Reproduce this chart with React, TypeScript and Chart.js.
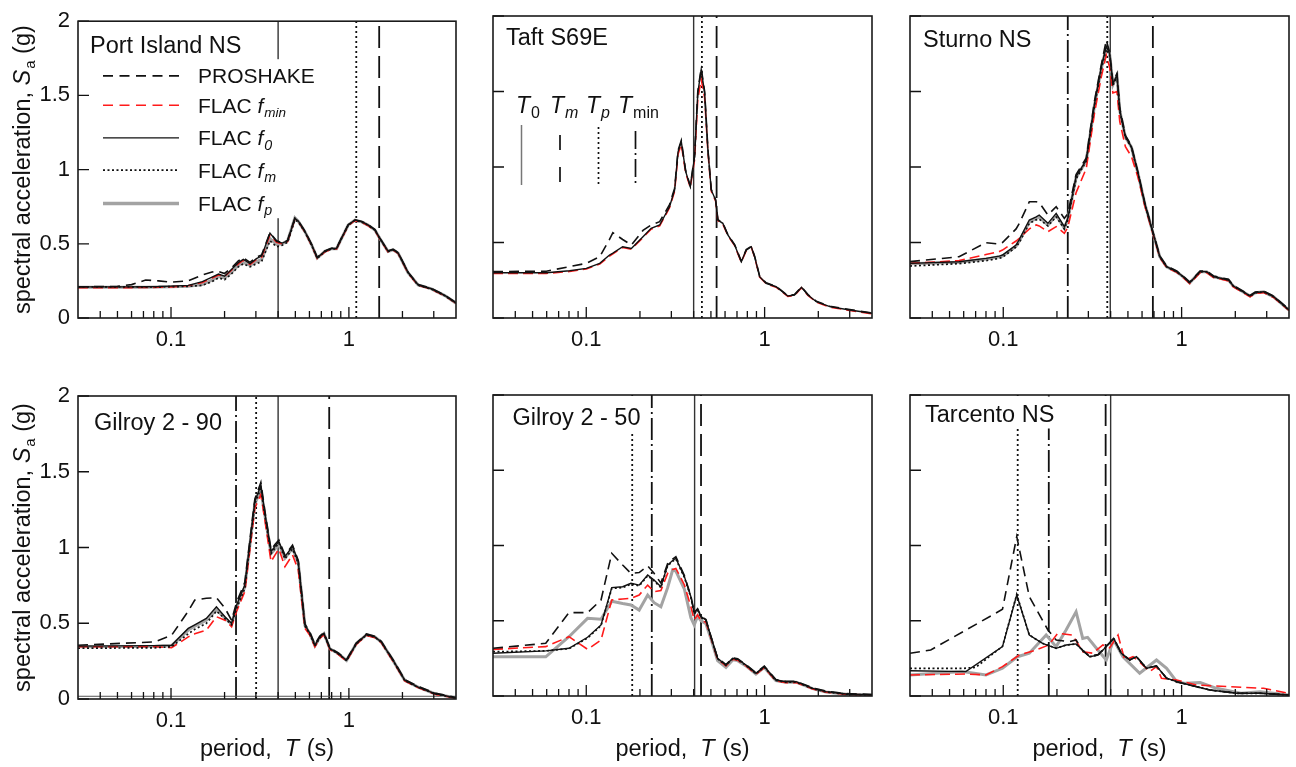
import React, { useEffect, useRef } from "react";
import { Chart, registerables } from "chart.js";
Chart.register(...registerables);

const FAMILY = '"Liberation Sans", Arial, Helvetica, sans-serif';
const W = 1296;
const H = 767;

// ---------- axes ----------
const xMin = 0.03;
const xMax = 4;
const yMin = 0;
const yMax = 2;
const xLabelValues = [0.1, 1];
const xLabelTexts = ["0.1", "1"];
const xMinorTicks = [0.04, 0.05, 0.06, 0.07, 0.08, 0.09, 0.2, 0.3, 0.4, 0.5, 0.6, 0.7, 0.8, 0.9, 2, 3];
const yTickValues = [0, 0.5, 1, 1.5, 2];
const yTickTexts = ["0", "0.5", "1", "1.5", "2"];

const panelTitles = ["Port Island NS", "Taft S69E", "Sturno NS", "Gilroy 2 - 90", "Gilroy 2 - 50", "Tarcento NS"];

// characteristic periods (vertical lines) per panel
const t0Lines = [0.4, 0.4, 0.398, 0.4, 0.405, 0.4];
const tmLines = [1.48, 0.538, 0.69, 0.775, 0.44, 0.375];
const tpLines = [1.1, 0.445, 0.383, 0.301, 0.181, 0.1205];
const tminLines = [null, null, 0.23, 0.232, 0.233, 0.18];

// ---------- Panel 1: Port Island NS ----------
const p1T = [0.03, 0.05, 0.06, 0.072, 0.085, 0.1, 0.125, 0.15, 0.17, 0.185, 0.2, 0.22, 0.239, 0.255, 0.278, 0.302, 0.323, 0.36, 0.392, 0.422, 0.452, 0.497, 0.519, 0.566, 0.617, 0.664, 0.733, 0.798, 0.852, 0.909, 0.991, 1.08, 1.18, 1.28, 1.4, 1.49, 1.66, 1.77, 1.89, 2.15, 2.45, 2.91, 3.46, 4.0];
const p1Proshake = [0.21, 0.213, 0.225, 0.256, 0.25, 0.242, 0.25, 0.29, 0.31, 0.314, 0.3, 0.34, 0.385, 0.405, 0.375, 0.41, 0.425, 0.575, 0.52, 0.508, 0.522, 0.673, 0.656, 0.585, 0.497, 0.408, 0.452, 0.47, 0.47, 0.54, 0.629, 0.662, 0.651, 0.629, 0.596, 0.54, 0.452, 0.463, 0.441, 0.309, 0.225, 0.199, 0.154, 0.103];
const p1Fmin = [0.205, 0.205, 0.205, 0.206, 0.207, 0.21, 0.217, 0.24, 0.27, 0.29, 0.28, 0.325, 0.365, 0.39, 0.36, 0.395, 0.41, 0.56, 0.51, 0.5, 0.515, 0.665, 0.65, 0.58, 0.49, 0.402, 0.446, 0.464, 0.465, 0.534, 0.623, 0.656, 0.645, 0.623, 0.59, 0.534, 0.446, 0.457, 0.435, 0.303, 0.22, 0.194, 0.149, 0.099];
const p1F0 = [0.21, 0.21, 0.21, 0.211, 0.212, 0.215, 0.22, 0.245, 0.275, 0.296, 0.282, 0.33, 0.373, 0.395, 0.366, 0.4, 0.417, 0.572, 0.517, 0.505, 0.52, 0.671, 0.654, 0.583, 0.495, 0.406, 0.45, 0.468, 0.468, 0.538, 0.627, 0.66, 0.649, 0.627, 0.594, 0.538, 0.45, 0.461, 0.439, 0.307, 0.223, 0.197, 0.152, 0.101];
const p1Fm = [0.21, 0.21, 0.21, 0.21, 0.21, 0.211, 0.213, 0.22, 0.245, 0.27, 0.258, 0.3, 0.345, 0.365, 0.345, 0.365, 0.38, 0.52, 0.48, 0.49, 0.51, 0.66, 0.648, 0.58, 0.49, 0.402, 0.447, 0.465, 0.466, 0.535, 0.625, 0.658, 0.647, 0.625, 0.592, 0.536, 0.448, 0.459, 0.437, 0.305, 0.221, 0.195, 0.15, 0.1];
const p1Fp = [0.208, 0.208, 0.208, 0.208, 0.209, 0.21, 0.214, 0.225, 0.255, 0.28, 0.27, 0.31, 0.355, 0.375, 0.355, 0.38, 0.395, 0.535, 0.495, 0.5, 0.52, 0.675, 0.652, 0.582, 0.493, 0.404, 0.449, 0.467, 0.467, 0.537, 0.626, 0.659, 0.648, 0.626, 0.593, 0.537, 0.449, 0.46, 0.438, 0.306, 0.222, 0.196, 0.151, 0.1];

// ---------- Panel 2: Taft S69E ----------
const p2T = [0.03, 0.0597, 0.0806, 0.1, 0.119, 0.135, 0.141, 0.16, 0.179, 0.208, 0.231, 0.258, 0.293, 0.313, 0.327, 0.341, 0.361, 0.383, 0.405, 0.422, 0.441, 0.461, 0.481, 0.502, 0.531, 0.547, 0.583, 0.622, 0.679, 0.74, 0.789, 0.842, 0.879, 0.938, 1.02, 1.16, 1.35, 1.47, 1.61, 1.75, 1.95, 2.32, 3.0, 4.0];
const p2Proshake = [0.307, 0.31, 0.34, 0.362, 0.406, 0.52, 0.565, 0.52, 0.483, 0.58, 0.616, 0.638, 0.75, 0.86, 1.11, 1.175, 0.975, 0.875, 1.075, 1.5, 1.655, 1.5, 1.118, 0.852, 0.785, 0.652, 0.63, 0.553, 0.486, 0.376, 0.453, 0.475, 0.409, 0.277, 0.233, 0.21, 0.149, 0.155, 0.206, 0.155, 0.111, 0.078, 0.056, 0.034];
const p2Fmin = [0.295, 0.295, 0.308, 0.324, 0.357, 0.41, 0.425, 0.467, 0.456, 0.533, 0.588, 0.61, 0.73, 0.84, 1.085, 1.15, 0.96, 0.865, 1.05, 1.45, 1.58, 1.46, 1.1, 0.84, 0.775, 0.645, 0.622, 0.546, 0.479, 0.37, 0.446, 0.468, 0.403, 0.271, 0.227, 0.204, 0.143, 0.149, 0.2, 0.149, 0.105, 0.072, 0.05, 0.028];
const p2F0 = [0.3, 0.3, 0.313, 0.329, 0.362, 0.417, 0.43, 0.472, 0.461, 0.538, 0.594, 0.616, 0.737, 0.848, 1.1, 1.168, 0.969, 0.87, 1.068, 1.49, 1.645, 1.49, 1.113, 0.848, 0.781, 0.649, 0.627, 0.55, 0.483, 0.373, 0.45, 0.472, 0.406, 0.274, 0.23, 0.207, 0.146, 0.152, 0.203, 0.152, 0.108, 0.075, 0.053, 0.031];

// ---------- Panel 3: Sturno NS ----------
const p3T = [0.03, 0.0565, 0.08, 0.095, 0.099, 0.118, 0.123, 0.14, 0.153, 0.159, 0.178, 0.198, 0.22, 0.23, 0.256, 0.292, 0.325, 0.355, 0.378, 0.395, 0.412, 0.434, 0.45, 0.484, 0.523, 0.57, 0.621, 0.692, 0.755, 0.824, 0.938, 1.02, 1.11, 1.27, 1.38, 1.51, 1.83, 1.95, 2.42, 2.59, 2.88, 3.28, 4.0];
const p3Proshake = [0.373, 0.406, 0.499, 0.49, 0.5, 0.59, 0.627, 0.77, 0.77, 0.765, 0.682, 0.737, 0.66, 0.69, 0.95, 1.06, 1.44, 1.68, 1.84, 1.76, 1.56, 1.62, 1.39, 1.21, 1.14, 0.963, 0.765, 0.566, 0.41, 0.344, 0.311, 0.278, 0.238, 0.311, 0.311, 0.278, 0.256, 0.216, 0.15, 0.172, 0.178, 0.145, 0.057];
const p3Fmin = [0.362, 0.38, 0.42, 0.44, 0.45, 0.51, 0.528, 0.59, 0.616, 0.61, 0.572, 0.605, 0.561, 0.6, 0.83, 0.99, 1.36, 1.6, 1.74, 1.66, 1.49, 1.5, 1.3, 1.134, 1.07, 0.93, 0.745, 0.555, 0.4, 0.335, 0.302, 0.268, 0.228, 0.3, 0.3, 0.268, 0.246, 0.206, 0.14, 0.162, 0.168, 0.136, 0.05];
const p3F0 = [0.362, 0.373, 0.395, 0.41, 0.417, 0.483, 0.52, 0.649, 0.67, 0.682, 0.627, 0.693, 0.605, 0.66, 0.936, 1.046, 1.42, 1.664, 1.8, 1.75, 1.55, 1.61, 1.377, 1.2, 1.134, 0.958, 0.76, 0.561, 0.406, 0.34, 0.307, 0.274, 0.234, 0.307, 0.307, 0.274, 0.252, 0.212, 0.146, 0.168, 0.174, 0.141, 0.053];
const p3Fm = [0.344, 0.36, 0.38, 0.395, 0.402, 0.47, 0.5, 0.627, 0.65, 0.655, 0.61, 0.67, 0.59, 0.65, 0.92, 1.04, 1.41, 1.65, 1.78, 1.74, 1.54, 1.6, 1.37, 1.195, 1.13, 0.955, 0.758, 0.56, 0.405, 0.339, 0.306, 0.273, 0.233, 0.306, 0.306, 0.273, 0.251, 0.211, 0.145, 0.167, 0.173, 0.14, 0.052];
const p3Fp = [0.36, 0.37, 0.39, 0.405, 0.41, 0.475, 0.51, 0.635, 0.66, 0.668, 0.615, 0.68, 0.595, 0.65, 0.93, 1.04, 1.41, 1.655, 1.79, 1.745, 1.545, 1.605, 1.372, 1.198, 1.132, 0.956, 0.759, 0.56, 0.405, 0.339, 0.306, 0.273, 0.233, 0.306, 0.306, 0.273, 0.251, 0.211, 0.145, 0.167, 0.173, 0.14, 0.052];

// ---------- Panel 4: Gilroy 2 - 90 ----------
const p4T = [0.03, 0.081, 0.1007, 0.125, 0.136, 0.158, 0.18, 0.201, 0.219, 0.234, 0.26, 0.296, 0.32, 0.338, 0.365, 0.384, 0.404, 0.437, 0.482, 0.519, 0.566, 0.604, 0.644, 0.687, 0.724, 0.782, 0.871, 0.97, 1.1, 1.256, 1.4, 1.52, 1.77, 2.06, 2.45, 3.04, 4.0];
const p4Proshake = [0.355, 0.377, 0.42, 0.58, 0.653, 0.665, 0.669, 0.6, 0.52, 0.64, 0.77, 1.32, 1.43, 1.23, 0.985, 1.02, 1.05, 0.95, 1.015, 0.915, 0.495, 0.44, 0.36, 0.415, 0.438, 0.337, 0.304, 0.26, 0.37, 0.43, 0.414, 0.381, 0.26, 0.128, 0.083, 0.039, 0.01];
const p4Fmin = [0.345, 0.345, 0.338, 0.41, 0.43, 0.455, 0.543, 0.52, 0.477, 0.58, 0.709, 1.26, 1.35, 1.17, 0.907, 0.95, 0.99, 0.874, 0.951, 0.852, 0.466, 0.42, 0.345, 0.4, 0.425, 0.327, 0.295, 0.25, 0.36, 0.42, 0.405, 0.372, 0.25, 0.12, 0.075, 0.032, 0.005];
const p4F0 = [0.349, 0.352, 0.355, 0.466, 0.49, 0.532, 0.609, 0.543, 0.499, 0.62, 0.753, 1.305, 1.41, 1.217, 0.974, 1.007, 1.04, 0.94, 1.007, 0.907, 0.488, 0.433, 0.355, 0.41, 0.433, 0.333, 0.3, 0.256, 0.366, 0.426, 0.41, 0.377, 0.256, 0.124, 0.079, 0.035, 0.007];
const p4Fm = [0.335, 0.338, 0.345, 0.43, 0.46, 0.499, 0.58, 0.53, 0.49, 0.6, 0.73, 1.29, 1.39, 1.2, 0.96, 0.995, 1.03, 0.925, 0.99, 0.895, 0.48, 0.428, 0.35, 0.405, 0.43, 0.33, 0.298, 0.253, 0.363, 0.423, 0.408, 0.375, 0.254, 0.122, 0.077, 0.034, 0.006];
const p4Fp = [0.345, 0.348, 0.352, 0.455, 0.48, 0.52, 0.59, 0.535, 0.495, 0.61, 0.74, 1.29, 1.38, 1.205, 0.96, 0.99, 1.02, 0.93, 0.995, 0.9, 0.485, 0.43, 0.352, 0.408, 0.432, 0.332, 0.3, 0.255, 0.365, 0.425, 0.41, 0.376, 0.255, 0.123, 0.078, 0.035, 0.007];
const p4BaseT = [0.03, 4.0];
const p4BaseSa = [0.018, 0.018];

// ---------- Panel 5: Gilroy 2 - 50 ----------
const p5T = [0.03, 0.0593, 0.08, 0.1017, 0.121, 0.139, 0.16, 0.178, 0.198, 0.221, 0.24, 0.262, 0.286, 0.305, 0.318, 0.355, 0.386, 0.403, 0.421, 0.44, 0.469, 0.5, 0.545, 0.607, 0.662, 0.706, 0.786, 0.894, 0.996, 1.156, 1.316, 1.5, 1.86, 2.21, 2.86, 4.0];
const p5Proshake = [0.317, 0.35, 0.554, 0.554, 0.638, 0.948, 0.87, 0.815, 0.82, 0.864, 0.815, 0.75, 0.88, 0.91, 0.926, 0.8, 0.665, 0.555, 0.58, 0.53, 0.508, 0.397, 0.253, 0.209, 0.253, 0.247, 0.209, 0.154, 0.198, 0.109, 0.098, 0.098, 0.054, 0.032, 0.016, 0.01];
const p5Fmin = [0.31, 0.328, 0.394, 0.31, 0.372, 0.638, 0.645, 0.649, 0.671, 0.737, 0.693, 0.7, 0.815, 0.84, 0.848, 0.738, 0.593, 0.505, 0.54, 0.5, 0.49, 0.385, 0.244, 0.2, 0.244, 0.238, 0.2, 0.145, 0.189, 0.1, 0.089, 0.089, 0.047, 0.026, 0.011, 0.005];
const p5F0 = [0.284, 0.3, 0.317, 0.39, 0.472, 0.72, 0.726, 0.749, 0.737, 0.804, 0.771, 0.726, 0.87, 0.9, 0.915, 0.793, 0.66, 0.55, 0.576, 0.527, 0.505, 0.394, 0.25, 0.206, 0.25, 0.244, 0.206, 0.151, 0.195, 0.106, 0.095, 0.095, 0.051, 0.029, 0.013, 0.007];
const p5Fm = [0.294, 0.3, 0.315, 0.385, 0.468, 0.715, 0.72, 0.744, 0.732, 0.798, 0.766, 0.72, 0.865, 0.895, 0.91, 0.788, 0.655, 0.545, 0.571, 0.522, 0.5, 0.39, 0.247, 0.203, 0.247, 0.241, 0.203, 0.148, 0.192, 0.103, 0.092, 0.092, 0.049, 0.027, 0.012, 0.006];
const p5Fp = [0.26, 0.26, 0.394, 0.516, 0.51, 0.63, 0.615, 0.605, 0.571, 0.671, 0.62, 0.593, 0.72, 0.837, 0.83, 0.71, 0.52, 0.472, 0.53, 0.5, 0.48, 0.38, 0.235, 0.19, 0.24, 0.235, 0.2, 0.145, 0.19, 0.102, 0.092, 0.092, 0.049, 0.027, 0.012, 0.006];

// ---------- Panel 6: Tarcento NS ----------
const p6ProshakeT = [0.03, 0.0392, 0.099, 0.119, 0.14, 0.178, 0.198, 0.235, 0.256, 0.279, 0.305, 0.34, 0.378, 0.416, 0.459, 0.512, 0.558, 0.635, 0.723, 0.824, 0.938, 1.11, 1.44, 2.04, 2.76, 4.0];
const p6Proshake = [0.284, 0.306, 0.576, 1.059, 0.66, 0.439, 0.372, 0.361, 0.372, 0.3, 0.265, 0.275, 0.33, 0.383, 0.284, 0.24, 0.262, 0.185, 0.2, 0.118, 0.095, 0.073, 0.04, 0.018, 0.018, 0.007];
const p6FminT = [0.03, 0.0617, 0.08, 0.099, 0.123, 0.153, 0.18, 0.202, 0.245, 0.279, 0.318, 0.362, 0.395, 0.44, 0.48, 0.534, 0.577, 0.663, 0.723, 0.771, 0.938, 1.21, 1.87, 2.88, 4.0];
const p6Fmin = [0.14, 0.146, 0.14, 0.195, 0.272, 0.306, 0.339, 0.417, 0.405, 0.294, 0.284, 0.339, 0.32, 0.405, 0.239, 0.261, 0.23, 0.162, 0.195, 0.118, 0.106, 0.073, 0.062, 0.051, 0.018];
const p6F0T = [0.03, 0.0617, 0.099, 0.119, 0.14, 0.166, 0.198, 0.225, 0.256, 0.305, 0.34, 0.378, 0.416, 0.459, 0.512, 0.558, 0.635, 0.723, 0.824, 0.938, 1.11, 1.44, 2.04, 2.76, 4.0];
const p6F0 = [0.168, 0.162, 0.328, 0.671, 0.405, 0.35, 0.317, 0.339, 0.346, 0.261, 0.272, 0.328, 0.383, 0.284, 0.239, 0.261, 0.184, 0.199, 0.118, 0.095, 0.073, 0.04, 0.018, 0.018, 0.007];
const p6FmT = [0.03, 0.06, 0.07, 0.099, 0.119, 0.14, 0.166, 0.198, 0.225, 0.256, 0.305, 0.34, 0.378, 0.416, 0.459, 0.512, 0.558, 0.635, 0.723, 0.824, 0.938, 1.11, 1.44, 2.04, 2.76, 4.0];
const p6Fm = [0.184, 0.184, 0.19, 0.33, 0.675, 0.405, 0.35, 0.317, 0.339, 0.346, 0.261, 0.272, 0.328, 0.383, 0.284, 0.239, 0.261, 0.184, 0.199, 0.118, 0.095, 0.073, 0.04, 0.018, 0.018, 0.007];
const p6FpT = [0.03, 0.059, 0.08, 0.099, 0.12, 0.14, 0.174, 0.198, 0.225, 0.256, 0.279, 0.297, 0.333, 0.378, 0.416, 0.469, 0.582, 0.723, 0.824, 0.938, 1.05, 1.27, 1.57, 2.15, 2.76, 4.0];
const p6Fp = [0.14, 0.162, 0.14, 0.184, 0.261, 0.284, 0.405, 0.328, 0.439, 0.56, 0.383, 0.39, 0.317, 0.239, 0.372, 0.261, 0.151, 0.239, 0.184, 0.095, 0.084, 0.089, 0.051, 0.018, 0.029, 0.007];

// ---------- layout (pixels) ----------
type Rect = { l: number; t: number; r: number; b: number };
const panelRects: Rect[] = [
  { l: 78, t: 16, r: 456, b: 318 },
  { l: 493, t: 16, r: 872, b: 318 },
  { l: 910, t: 16, r: 1289, b: 318 },
  { l: 78, t: 396, r: 456, b: 699 },
  { l: 493, t: 395, r: 872, b: 696 },
  { l: 910, t: 395, r: 1289, b: 696 },
];
const titleOffsets = [
  [12, 23.5],
  [13, 21],
  [13, 23],
  [16, 25.5],
  [19.5, 21.5],
  [15, 19],
];
const YW = 40;
const XH = 40;

type Seg = { t: string; it?: boolean; sub?: boolean; sz?: number };
const legendLabels: Seg[][] = [
  [{ t: "PROSHAKE" }],
  [{ t: "FLAC " }, { t: "f", it: true }, { t: "min", it: true, sub: true, sz: 13.5 }],
  [{ t: "FLAC " }, { t: "f", it: true }, { t: "0", it: true, sub: true }],
  [{ t: "FLAC " }, { t: "f", it: true }, { t: "m", it: true, sub: true }],
  [{ t: "FLAC " }, { t: "f", it: true }, { t: "p", it: true, sub: true }],
];
const legendKeys = ["proshake", "fmin", "f0", "fm", "fp"];
const miniLegendLabels: Seg[][] = [
  [{ t: "T", it: true }, { t: "0", sub: true, sz: 16 }],
  [{ t: "T", it: true }, { t: "m", it: true, sub: true, sz: 16 }],
  [{ t: "T", it: true }, { t: "p", it: true, sub: true, sz: 16 }],
  [{ t: "T", it: true }, { t: "min", sub: true, sz: 16 }],
];
const yTitle: Seg[] = [{ t: "spectral acceleration, " }, { t: "S", it: true }, { t: "a", sub: true, sz: 15 }, { t: " (g)" }];
const xTitle: Seg[] = [{ t: "period,  " }, { t: "T", it: true }, { t: " (s)" }];

const styles: Record<string, { color: string; width: number; dash: number[]; order: number }> = {
  proshake: { color: "#111111", width: 1.6, dash: [10, 6], order: 3 },
  fmin: { color: "#ff1a1a", width: 1.6, dash: [10, 5], order: 5 },
  f0: { color: "#111111", width: 1.4, dash: [], order: 2 },
  fm: { color: "#111111", width: 1.7, dash: [2, 2.5], order: 4 },
  fp: { color: "#a3a3a3", width: 3, dash: [], order: 6 },
};
const vStyles: Record<string, { color: string; width: number; dash: number[] }> = {
  t0: { color: "#333333", width: 1.4, dash: [] },
  tm: { color: "#111111", width: 1.8, dash: [22, 8] },
  tp: { color: "#111111", width: 1.8, dash: [2, 3] },
  tmin: { color: "#111111", width: 1.8, dash: [22, 4, 2, 4] },
};

type SeriesSet = Record<string, [number[], number[]] | null>;
const panelSeries: SeriesSet[] = [
  { proshake: [p1T, p1Proshake], fmin: [p1T, p1Fmin], f0: [p1T, p1F0], fm: [p1T, p1Fm], fp: [p1T, p1Fp] },
  { proshake: [p2T, p2Proshake], fmin: [p2T, p2Fmin], f0: [p2T, p2F0], fm: null, fp: null },
  { proshake: [p3T, p3Proshake], fmin: [p3T, p3Fmin], f0: [p3T, p3F0], fm: [p3T, p3Fm], fp: [p3T, p3Fp] },
  { proshake: [p4T, p4Proshake], fmin: [p4T, p4Fmin], f0: [p4T, p4F0], fm: [p4T, p4Fm], fp: [p4T, p4Fp] },
  { proshake: [p5T, p5Proshake], fmin: [p5T, p5Fmin], f0: [p5T, p5F0], fm: [p5T, p5Fm], fp: [p5T, p5Fp] },
  { proshake: [p6ProshakeT, p6Proshake], fmin: [p6FminT, p6Fmin], f0: [p6F0T, p6F0], fm: [p6FmT, p6Fm], fp: [p6FpT, p6Fp] },
];

// ---------- rich text helpers ----------
function segSize(s: Seg, base: number) {
  return s.sz ?? (s.sub ? base * 0.68 : base);
}
function fontStr(size: number, it?: boolean) {
  return `${it ? "italic " : ""}${size}px ${FAMILY}`;
}
function richWidth(ctx: CanvasRenderingContext2D, segs: Seg[], base: number) {
  let w = 0;
  for (const s of segs) {
    ctx.font = fontStr(segSize(s, base), s.it);
    w += ctx.measureText(s.t).width + (s.it && !s.sub ? 1 : 0);
  }
  return w;
}
function drawRich(ctx: CanvasRenderingContext2D, segs: Seg[], x: number, yMid: number, base: number, align: "left" | "center") {
  const w = richWidth(ctx, segs, base);
  let cx = align === "center" ? x - w / 2 : x;
  const baseline = yMid + base * 0.36;
  ctx.textAlign = "left";
  ctx.textBaseline = "alphabetic";
  for (const s of segs) {
    const size = segSize(s, base);
    ctx.font = fontStr(size, s.it);
    ctx.fillText(s.t, cx, s.sub ? baseline + base * 0.2 : baseline);
    cx += ctx.measureText(s.t).width + (s.it && !s.sub ? 1 : 0);
  }
  return w;
}

function xy(T: number[], V: number[]) {
  return T.map((t, i) => ({ x: t, y: V[i] }));
}

function makeDecor(idx: number) {
  return {
    id: "decor" + idx,
    afterDatasetsDraw(chart: any) {
      const ctx: CanvasRenderingContext2D = chart.ctx;
      const a = chart.chartArea;
      const xs = chart.scales.x;
      const ys = chart.scales.y;
      ctx.save();
      ctx.setLineDash([]);
      // inward ticks
      ctx.strokeStyle = "#111";
      ctx.lineWidth = 1.3;
      ctx.beginPath();
      for (const v of xMinorTicks) {
        const px = xs.getPixelForValue(v);
        ctx.moveTo(px, a.bottom);
        ctx.lineTo(px, a.bottom - 7);
      }
      for (const v of xLabelValues) {
        const px = xs.getPixelForValue(v);
        ctx.moveTo(px, a.bottom);
        ctx.lineTo(px, a.bottom - 11);
      }
      for (const v of yTickValues) {
        const py = ys.getPixelForValue(v);
        ctx.moveTo(a.left, py);
        ctx.lineTo(a.left + 11, py);
      }
      ctx.stroke();
      // frame
      ctx.lineWidth = 1.6;
      ctx.strokeStyle = "#1a1a1a";
      ctx.strokeRect(a.left, a.top, a.right - a.left, a.bottom - a.top);

      // title with white background
      const [tx, ty] = titleOffsets[idx];
      const tSize = 23.5;
      ctx.font = fontStr(tSize);
      const tw = ctx.measureText(panelTitles[idx]).width;
      ctx.fillStyle = "#fff";
      ctx.fillRect(a.left + tx - 3, a.top + 1.5, tw + 6, ty + 13);
      ctx.fillStyle = "#111";
      drawRich(ctx, [{ t: panelTitles[idx] }], a.left + tx, a.top + ty, tSize, "left");

      // legend (panel 1)
      if (idx === 0) {
        ctx.fillStyle = "#fff";
        ctx.fillRect(a.left + 15, a.top + 38, 198, 159);
        const rowsY = [54.7, 84, 116.7, 149, 182.3];
        legendKeys.forEach((k, i) => {
          const st = styles[k];
          const y = a.top + rowsY[i];
          ctx.strokeStyle = st.color;
          ctx.lineWidth = k === "fp" ? 3.5 : st.width;
          ctx.setLineDash(k === "proshake" || k === "fmin" ? [10, 6.5] : st.dash);
          ctx.beginPath();
          ctx.moveTo(a.left + 25, y);
          ctx.lineTo(a.left + 101, y);
          ctx.stroke();
          ctx.setLineDash([]);
          ctx.fillStyle = "#111";
          drawRich(ctx, legendLabels[i], a.left + 120, y, 21, "left");
        });
      }
      // mini legend of characteristic periods (panel 2)
      if (idx === 1) {
        const textX = [23, 57, 93, 125];
        const lineX = [28.5, 67, 105.5, 142.5];
        const lineStyles = [
          { c: "#777", w: 1.5, d: [] as number[], y0: 109, y1: 169 },
          { c: "#111", w: 1.7, d: [15, 17], y0: 119, y1: 167 },
          { c: "#111", w: 1.7, d: [2, 3], y0: 111, y1: 171 },
          { c: "#111", w: 1.7, d: [18, 4, 2, 4], y0: 115, y1: 169 },
        ];
        miniLegendLabels.forEach((segs, i) => {
          ctx.fillStyle = "#111";
          drawRich(ctx, segs, a.left + textX[i], a.top + 89, 23, "left");
          const ls = lineStyles[i];
          ctx.strokeStyle = ls.c;
          ctx.lineWidth = ls.w;
          ctx.setLineDash(ls.d);
          ctx.beginPath();
          ctx.moveTo(a.left + lineX[i], a.top + ls.y0);
          ctx.lineTo(a.left + lineX[i], a.top + ls.y1);
          ctx.stroke();
          ctx.setLineDash([]);
        });
      }
      // axis titles
      ctx.fillStyle = "#111";
      if (idx === 0 || idx === 3) {
        ctx.save();
        ctx.translate(22, (a.top + a.bottom) / 2);
        ctx.rotate(-Math.PI / 2);
        drawRich(ctx, yTitle, 0, 0, 23.5, "center");
        ctx.restore();
      }
      if (idx >= 3) {
        drawRich(ctx, xTitle, (a.left + a.right) / 2, 748, 23.5, "center");
      }
      ctx.restore();
    },
  };
}

function buildConfig(idx: number): any {
  const rect = panelRects[idx];
  const datasets: any[] = [];
  const vline = (t: number | null, key: string) => {
    if (t == null) return;
    const st = vStyles[key];
    datasets.push({
      data: [
        { x: t, y: yMin },
        { x: t, y: yMax },
      ],
      borderColor: st.color,
      borderWidth: st.width,
      borderDash: st.dash,
      pointRadius: 0,
      fill: false,
      order: 10,
    });
  };
  vline(t0Lines[idx], "t0");
  vline(tmLines[idx], "tm");
  vline(tpLines[idx], "tp");
  vline(tminLines[idx], "tmin");
  if (idx === 3) {
    datasets.push({ data: xy(p4BaseT, p4BaseSa), borderColor: "#555", borderWidth: 1, pointRadius: 0, order: 9 });
  }
  const s = panelSeries[idx];
  for (const key of ["fp", "fmin", "fm", "proshake", "f0"]) {
    const ser = s[key];
    if (!ser) continue;
    const st = styles[key];
    datasets.push({
      data: xy(ser[0], ser[1]),
      borderColor: st.color,
      borderWidth: st.width,
      borderDash: st.dash,
      pointRadius: 0,
      fill: false,
      tension: 0,
      order: st.order,
    });
  }
  const showY = idx === 0 || idx === 3;
  const font = { family: FAMILY, size: 22 };
  return {
    type: "line",
    data: { datasets },
    plugins: [makeDecor(idx)],
    options: {
      responsive: false,
      animation: false,
      devicePixelRatio: 1,
      events: [],
      layout: {
        padding: { left: rect.l - YW, top: rect.t, right: W - rect.r, bottom: H - rect.b - XH },
      },
      plugins: { legend: { display: false }, tooltip: { enabled: false } },
      scales: {
        x: {
          type: "logarithmic",
          min: xMin,
          max: xMax,
          grid: { display: false, drawTicks: false },
          border: { display: false },
          afterBuildTicks: (sc: any) => {
            sc.ticks = xLabelValues.map((v) => ({ value: v }));
          },
          afterFit: (sc: any) => {
            sc.height = XH;
          },
          ticks: {
            autoSkip: false,
            maxRotation: 0,
            padding: 9,
            color: "#111",
            font,
            callback: (v: number) => {
              const i = xLabelValues.findIndex((x) => Math.abs(x - v) < 1e-9);
              return i >= 0 ? xLabelTexts[i] : "";
            },
          },
        },
        y: {
          type: "linear",
          min: yMin,
          max: yMax,
          grid: { display: false, drawTicks: false },
          border: { display: false },
          afterBuildTicks: (sc: any) => {
            sc.ticks = yTickValues.map((v) => ({ value: v }));
          },
          afterFit: (sc: any) => {
            sc.width = YW;
          },
          ticks: {
            display: showY,
            padding: 8,
            color: "#111",
            font,
            callback: (v: number) => {
              const i = yTickValues.findIndex((x) => Math.abs(x - v) < 1e-9);
              return i >= 0 ? yTickTexts[i] : "";
            },
          },
        },
      },
    },
  };
}

function Panel({ idx }: { idx: number }) {
  const ref = useRef<HTMLCanvasElement>(null);
  useEffect(() => {
    const chart = new Chart(ref.current as HTMLCanvasElement, buildConfig(idx));
    return () => chart.destroy();
  }, [idx]);
  return <canvas ref={ref} width={W} height={H} style={{ position: "absolute", left: 0, top: 0, width: W, height: H }} />;
}

export default function App() {
  return (
    <div style={{ position: "absolute", left: 0, top: 0, width: W, height: H, background: "#fff", overflow: "hidden" }}>
      {panelRects.map((_, i) => (
        <Panel key={i} idx={i} />
      ))}
    </div>
  );
}
